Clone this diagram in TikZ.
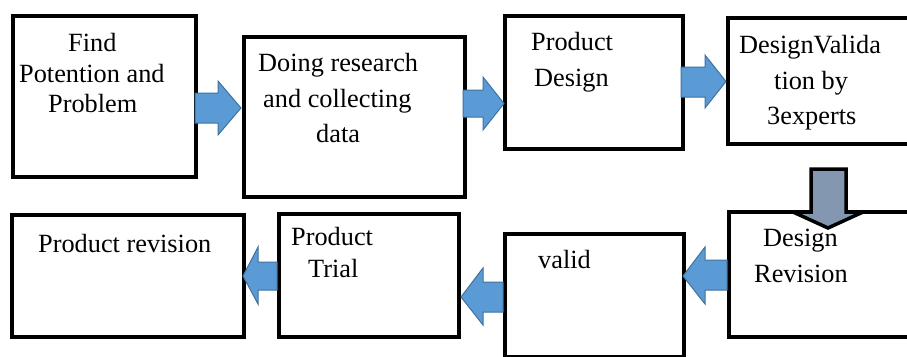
\documentclass[tikz,border=0pt]{standalone}
\usepackage{fontspec}
\setmainfont{Liberation Serif}
\newfontfamily\tnr{Liberation Serif}
\definecolor{arrblue}{HTML}{5B9BD5}
\definecolor{arrblueline}{HTML}{41719C}
\definecolor{arrgray}{HTML}{8497B0}
\begin{document}
\begin{tikzpicture}[x=1pt,y=-1pt,
  box/.style={draw=black,line width=3.5pt,fill=white,inner sep=0pt,anchor=north west},
  txt/.style={anchor=base west,inner sep=0pt,font=\tnr\fontsize{26.3}{36}\selectfont},
  barrow/.style={fill=arrblue,draw=arrblueline,line width=1pt,line join=miter},
  garrow/.style={fill=arrgray,draw=black,line width=3.5pt,line join=miter}]
\clip (0,0) rectangle (907,356);
\fill[white] (0,0) rectangle (907,356);
% boxes
\node[box,minimum width=183pt,minimum height=161pt] (b1) at (11,14) {};
\node[box,minimum width=221pt,minimum height=160pt] (b2) at (242,35) {};
\node[box,minimum width=178pt,minimum height=133pt] (b3) at (503,14) {};
\node[box,minimum width=200pt,minimum height=126pt] (b4) at (726,16) {};
\node[box,minimum width=200pt,minimum height=125pt] (b5) at (727,210) {};
\node[box,minimum width=179pt,minimum height=123pt] (b6) at (503,232) {};
\node[box,minimum width=180pt,minimum height=123pt] (b7) at (277,212) {};
\node[box,minimum width=232pt,minimum height=122pt] (b8) at (10,213) {};
% texts
\node[txt] (t1a) at (68,51) {Find};
\node[txt] (t1b) at (19,82) {Potention and};
\node[txt] (t1c) at (48,112) {Problem};
\node[txt] (t2a) at (258,71) {Doing research};
\node[txt] (t2b) at (263,107) {and collecting};
\node[txt] (t2c) at (316,142) {data};
\node[txt] (t3a) at (531,50) {Product};
\node[txt] (t3b) at (534,86) {Design};
\node[txt] (t4a) at (739,53) {DesignValida};
\node[txt] (t4b) at (774,89) {tion by};
\node[txt] (t4c) at (767,124) {3experts};
\node[txt] (t6a) at (538,268) {valid};
\node[txt] (t7a) at (291,245) {Product};
\node[txt] (t7b) at (308,277) {Trial};
\node[txt] (t8a) at (38,252) {Product revision};
% arrows
\draw[barrow] (195,93) -- (218,93) -- (218,81) -- (241,108) -- (218,135) -- (218,123) -- (195,123) -- cycle;
\draw[barrow] (463,90) -- (483,90) -- (483,77) -- (504,103.5) -- (483,130) -- (483,117) -- (463,117) -- cycle;
\draw[barrow] (681,67) -- (705,67) -- (705,55) -- (726,81.5) -- (705,108) -- (705,97) -- (681,97) -- cycle;
\draw[barrow] (727,260) -- (705,260) -- (705,247) -- (683,276) -- (705,304) -- (705,290) -- (727,290) -- cycle;
\draw[barrow] (503,282) -- (483,282) -- (483,268) -- (461,297) -- (483,325) -- (483,312) -- (503,312) -- cycle;
\draw[barrow] (277,262) -- (258,262) -- (258,247) -- (243,276) -- (258,304) -- (258,290) -- (277,290) -- cycle;
\draw[garrow] (811,169) -- (846,169) -- (846,212) -- (863,212) -- (828,228) -- (793,212) -- (811,212) -- cycle;
\node[txt] (t5a) at (763,246) {Design};
\node[txt] (t5b) at (754,282) {Revision};
\end{tikzpicture}
\end{document}
